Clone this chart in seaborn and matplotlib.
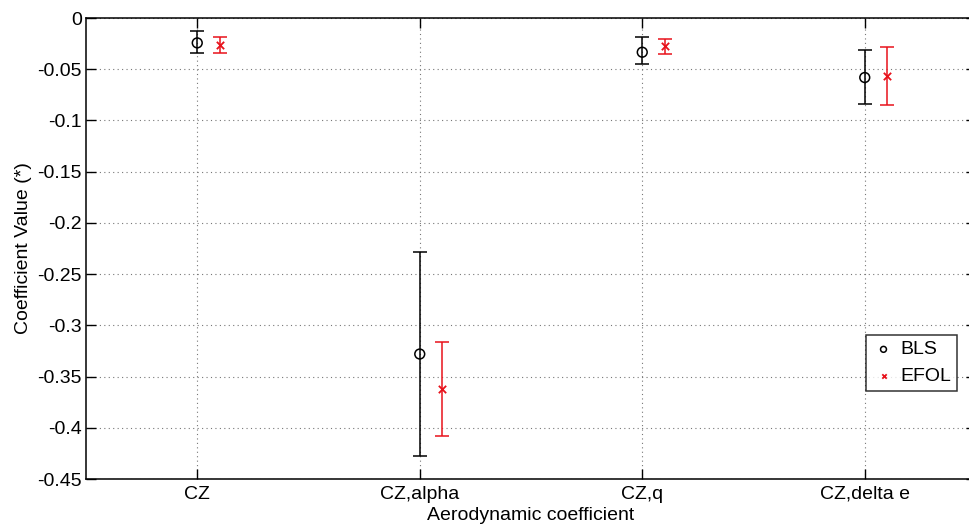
import matplotlib
matplotlib.use("Agg")
import matplotlib.pyplot as plt
import seaborn as sns
import pandas as pd
import numpy as np

categories = ["CZ", "CZ,alpha", "CZ,q", "CZ,delta e"]
bls_value = [-0.0243, -0.328, -0.0334, -0.0581]
bls_upper = [-0.0127, -0.228, -0.0188, -0.0315]
bls_lower = [-0.0341, -0.4276, -0.0451, -0.0838]
efol_value = [-0.0263, -0.362, -0.0273, -0.0562]
efol_upper = [-0.0185, -0.316, -0.0205, -0.0286]
efol_lower = [-0.0341, -0.408, -0.0354, -0.0847]
yticks = [0, -0.05, -0.1, -0.15, -0.2, -0.25, -0.3, -0.35, -0.4, -0.45]
ytick_labels = ["0", "-0.05", "-0.1", "-0.15", "-0.2", "-0.25", "-0.3", "-0.35", "-0.4", "-0.45"]

sns.set_style("white")
plt.rcParams["font.family"] = ["Liberation Sans", "DejaVu Sans"]
plt.rcParams["text.color"] = "black"
plt.rcParams["axes.labelcolor"] = "black"

FS = 14
RED = "#e8121b"

fig = plt.figure(figsize=(9.69, 5.25), dpi=100)
ax = fig.add_axes([86/969, 1 - 479/525, (976 - 86)/969, (479 - 18)/525])

xpos = np.arange(1, len(categories) + 1)
offset = 0.1
df = pd.DataFrame({
    "x": np.concatenate([xpos, xpos + offset]),
    "value": bls_value + efol_value,
    "method": ["BLS"] * 4 + ["EFOL"] * 4,
})

bv, bu, bl = map(np.array, (bls_value, bls_upper, bls_lower))
ev, eu, el = map(np.array, (efol_value, efol_upper, efol_lower))
ax.errorbar(xpos, bv, yerr=[bv - bl, bu - bv], fmt="none", ecolor="black",
            elinewidth=1.1, capsize=5, capthick=1.1, zorder=3)
ax.errorbar(xpos + offset, ev, yerr=[ev - el, eu - ev], fmt="none", ecolor=RED,
            elinewidth=1.1, capsize=5, capthick=1.1, zorder=3)

sns.scatterplot(data=df[df.method == "BLS"], x="x", y="value", ax=ax, marker="o",
                s=50, facecolor="none", edgecolor="black", linewidth=1.1,
                label="BLS", zorder=4)
sns.scatterplot(data=df[df.method == "EFOL"], x="x", y="value", ax=ax, marker="x",
                s=28, color=RED, linewidth=1.3, label="EFOL", zorder=4)

ax.set_xlim(0.5, 4.5)
ax.set_ylim(-0.45, 0)
ax.set_xticks(xpos)
ax.set_xticklabels(categories)
ax.set_yticks(yticks)
ax.set_yticklabels(ytick_labels)
ax.set_xlabel("Aerodynamic coefficient", fontsize=FS, labelpad=3)
ax.set_ylabel("Coefficient Value (*)", fontsize=FS, labelpad=4)
ax.tick_params(direction="in", length=7, width=1, labelsize=FS, colors="black",
               top=True, right=True, bottom=True, left=True, pad=3)
ax.tick_params(axis="x", pad=5)
ax.grid(True, linestyle=(0, (1, 3)), color="#777777", linewidth=0.8)
for s in ax.spines.values():
    s.set_color("black")
    s.set_linewidth(1.1)

leg = ax.legend(loc="upper left", bbox_to_anchor=((866 - 86)/890, 1 - (335 - 18)/461),
                frameon=True, fancybox=False, fontsize=FS, handletextpad=0.25,
                borderpad=0.3, handlelength=1.2, labelspacing=0.45, markerscale=0.6,
                borderaxespad=0)
leg.get_frame().set_edgecolor("black")
leg.get_frame().set_linewidth(1.1)

fig.savefig("out.png", dpi=100)
